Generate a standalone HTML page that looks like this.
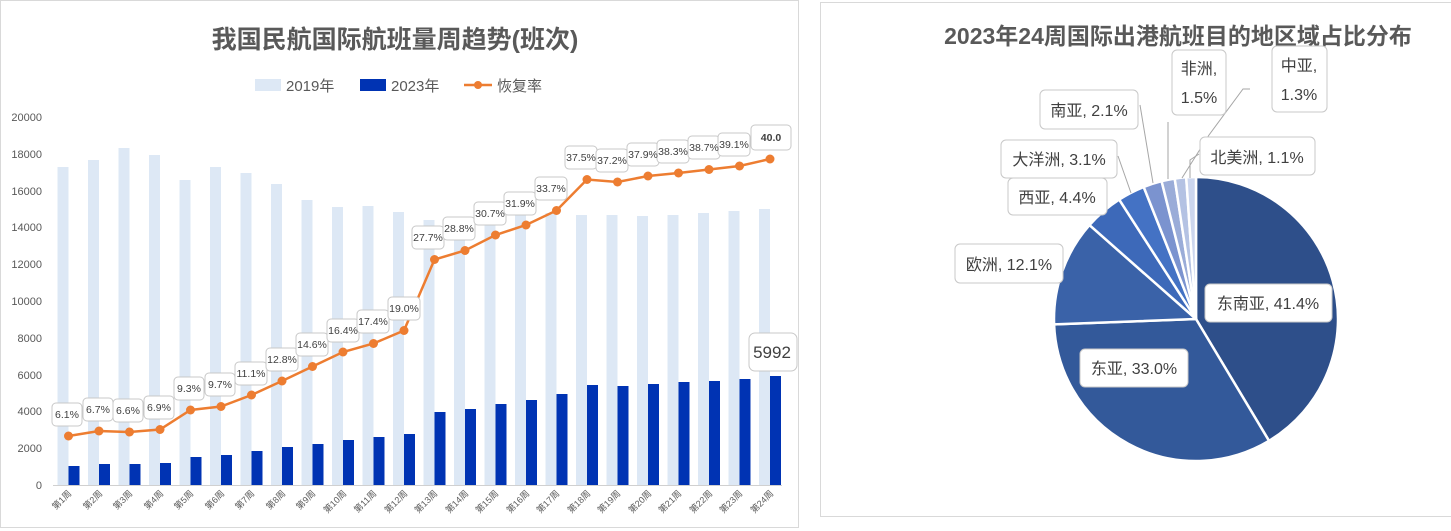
<!DOCTYPE html>
<html><head><meta charset="utf-8"><style>
body{margin:0;background:#fff;}
svg{display:block;font-family:"Liberation Sans","Noto Sans CJK SC",sans-serif;}
</style></head><body>
<svg width="1451" height="531" viewBox="0 0 1451 531" xmlns="http://www.w3.org/2000/svg">
<rect x="0.5" y="0.5" width="798" height="527" fill="#fff" stroke="#d9d9d9"/>
<rect x="820.5" y="2.5" width="640" height="514" fill="#fff" stroke="#d9d9d9"/>
<text x="395" y="48" text-anchor="middle" font-size="25" font-weight="bold" fill="#595959">我国民航国际航班量周趋势(班次)</text>
<!-- legend -->
<rect x="255" y="79" width="26" height="12" fill="#dde8f5"/>
<text x="286" y="91" font-size="15" fill="#595959">2019年</text>
<rect x="360" y="79" width="26" height="12" fill="#0033b3"/>
<text x="391" y="91" font-size="15" fill="#595959">2023年</text>
<line x1="464" y1="85" x2="492" y2="85" stroke="#ed7d31" stroke-width="2.5"/>
<circle cx="478" cy="85" r="4" fill="#ed7d31"/>
<text x="497" y="91" font-size="15" fill="#595959">恢复率</text>
<!-- y axis labels -->
<g font-size="11" fill="#595959" text-anchor="end">
<text x="42" y="489">0</text><text x="42" y="452">2000</text><text x="42" y="415">4000</text><text x="42" y="379">6000</text><text x="42" y="342">8000</text><text x="42" y="305">10000</text><text x="42" y="268">12000</text><text x="42" y="231">14000</text><text x="42" y="195">16000</text><text x="42" y="158">18000</text><text x="42" y="121">20000</text>
</g>
<!-- 2019 bars -->
<g fill="#dde8f5">
<rect x="57.5" y="167" width="11" height="318"/><rect x="88" y="160" width="11" height="325"/><rect x="118.5" y="148" width="11" height="337"/><rect x="149" y="155" width="11" height="330"/><rect x="179.5" y="180" width="11" height="305"/><rect x="210" y="167" width="11" height="318"/><rect x="240.5" y="173" width="11" height="312"/><rect x="271" y="184" width="11" height="301"/><rect x="301.5" y="200" width="11" height="285"/><rect x="332" y="207" width="11" height="278"/><rect x="362.5" y="206" width="11" height="279"/><rect x="393" y="212" width="11" height="273"/><rect x="423.5" y="220" width="11" height="265"/><rect x="454" y="219" width="11" height="266"/><rect x="484.5" y="215" width="11" height="270"/><rect x="515" y="215" width="11" height="270"/><rect x="545.5" y="213" width="11" height="272"/><rect x="576" y="215" width="11" height="270"/><rect x="606.5" y="215" width="11" height="270"/><rect x="637" y="216" width="11" height="269"/><rect x="667.5" y="215" width="11" height="270"/><rect x="698" y="213" width="11" height="272"/><rect x="728.5" y="211" width="11" height="274"/><rect x="759" y="209" width="11" height="276"/>
</g>
<!-- 2023 bars -->
<g fill="#0033b3">
<rect x="68.5" y="466" width="11" height="19"/><rect x="99" y="464" width="11" height="21"/><rect x="129.5" y="464" width="11" height="21"/><rect x="160" y="463" width="11" height="22"/><rect x="190.5" y="457" width="11" height="28"/><rect x="221" y="455" width="11" height="30"/><rect x="251.5" y="451" width="11" height="34"/><rect x="282" y="447" width="11" height="38"/><rect x="312.5" y="444" width="11" height="41"/><rect x="343" y="440" width="11" height="45"/><rect x="373.5" y="437" width="11" height="48"/><rect x="404" y="434" width="11" height="51"/><rect x="434.5" y="412" width="11" height="73"/><rect x="465" y="409" width="11" height="76"/><rect x="495.5" y="404" width="11" height="81"/><rect x="526" y="400" width="11" height="85"/><rect x="556.5" y="394" width="11" height="91"/><rect x="587" y="385" width="11" height="100"/><rect x="617.5" y="386" width="11" height="99"/><rect x="648" y="384" width="11" height="101"/><rect x="678.5" y="382" width="11" height="103"/><rect x="709" y="381" width="11" height="104"/><rect x="739.5" y="379" width="11" height="106"/><rect x="770" y="376" width="11" height="109"/>
</g>
<line x1="53" y1="485.5" x2="782" y2="485.5" stroke="#d0d0d0"/>
<!-- line -->
<polyline fill="none" stroke="#ed7d31" stroke-width="2.5" points="68.5,436 99,431 129.5,432 160,429.5 190.5,410 221,406.5 251.5,395 282,381 312.5,366.5 343,352 373.5,343.5 404,330.5 434.5,259.5 465,250.5 495.5,235 526,225 556.5,210.5 587,179.5 617.5,182 648,176 678.5,173 709,169.5 739.5,166 770,159"/>
<g fill="#ed7d31">
<circle cx="68.5" cy="436" r="4.5"/><circle cx="99" cy="431" r="4.5"/><circle cx="129.5" cy="432" r="4.5"/><circle cx="160" cy="429.5" r="4.5"/><circle cx="190.5" cy="410" r="4.5"/><circle cx="221" cy="406.5" r="4.5"/><circle cx="251.5" cy="395" r="4.5"/><circle cx="282" cy="381" r="4.5"/><circle cx="312.5" cy="366.5" r="4.5"/><circle cx="343" cy="352" r="4.5"/><circle cx="373.5" cy="343.5" r="4.5"/><circle cx="404" cy="330.5" r="4.5"/><circle cx="434.5" cy="259.5" r="4.5"/><circle cx="465" cy="250.5" r="4.5"/><circle cx="495.5" cy="235" r="4.5"/><circle cx="526" cy="225" r="4.5"/><circle cx="556.5" cy="210.5" r="4.5"/><circle cx="587" cy="179.5" r="4.5"/><circle cx="617.5" cy="182" r="4.5"/><circle cx="648" cy="176" r="4.5"/><circle cx="678.5" cy="173" r="4.5"/><circle cx="709" cy="169.5" r="4.5"/><circle cx="739.5" cy="166" r="4.5"/><circle cx="770" cy="159" r="4.5"/>
</g>
<!-- data labels -->
<g fill="#fff" stroke="#c8c8c8" stroke-width="1">
<rect x="52" y="403" width="30" height="23" rx="4"/><rect x="83" y="398" width="30" height="23" rx="4"/><rect x="113" y="399" width="30" height="23" rx="4"/><rect x="144" y="396" width="30" height="23" rx="4"/><rect x="174" y="377" width="30" height="23" rx="4"/><rect x="205" y="373" width="30" height="23" rx="4"/><rect x="235" y="362" width="32" height="23" rx="4"/><rect x="266" y="348" width="32" height="23" rx="4"/><rect x="296" y="333" width="32" height="23" rx="4"/><rect x="327" y="319" width="32" height="23" rx="4"/><rect x="357" y="310" width="32" height="23" rx="4"/><rect x="388" y="297" width="32" height="23" rx="4"/><rect x="412" y="226" width="32" height="23" rx="4"/><rect x="443" y="217" width="32" height="23" rx="4"/><rect x="474" y="202" width="32" height="23" rx="4"/><rect x="504" y="192" width="32" height="23" rx="4"/><rect x="535" y="177" width="32" height="23" rx="4"/><rect x="565" y="146" width="32" height="23" rx="4"/><rect x="596" y="149" width="32" height="23" rx="4"/><rect x="627" y="143" width="32" height="23" rx="4"/><rect x="657" y="140" width="32" height="23" rx="4"/><rect x="688" y="136" width="32" height="23" rx="4"/><rect x="718" y="133" width="32" height="23" rx="4"/><rect x="751" y="125" width="40" height="25" rx="4"/>
<rect x="749" y="333" width="48" height="38" rx="6"/>
</g>
<g font-size="10.5" fill="#404040" text-anchor="middle">
<text x="67" y="418">6.1%</text><text x="98" y="413">6.7%</text><text x="128" y="414">6.6%</text><text x="159" y="411">6.9%</text><text x="189" y="392">9.3%</text><text x="220" y="388">9.7%</text><text x="251" y="377">11.1%</text><text x="282" y="363">12.8%</text><text x="312" y="348">14.6%</text><text x="343" y="334">16.4%</text><text x="373" y="325">17.4%</text><text x="404" y="312">19.0%</text><text x="428" y="241">27.7%</text><text x="459" y="232">28.8%</text><text x="490" y="217">30.7%</text><text x="520" y="207">31.9%</text><text x="551" y="192">33.7%</text><text x="581" y="161">37.5%</text><text x="612" y="164">37.2%</text><text x="643" y="158">37.9%</text><text x="673" y="155">38.3%</text><text x="704" y="151">38.7%</text><text x="734" y="148">39.1%</text><text x="771" y="141" font-weight="bold">40.0</text>
<text x="772" y="358" font-size="17">5992</text>
</g>
<!-- x labels -->
<g font-size="9" fill="#595959" text-anchor="end">
<text transform="translate(72,494) rotate(-45)">第1周</text><text transform="translate(103,494) rotate(-45)">第2周</text><text transform="translate(133,494) rotate(-45)">第3周</text><text transform="translate(164,494) rotate(-45)">第4周</text><text transform="translate(194,494) rotate(-45)">第5周</text><text transform="translate(225,494) rotate(-45)">第6周</text><text transform="translate(255,494) rotate(-45)">第7周</text><text transform="translate(286,494) rotate(-45)">第8周</text><text transform="translate(316,494) rotate(-45)">第9周</text><text transform="translate(347,494) rotate(-45)">第10周</text><text transform="translate(377,494) rotate(-45)">第11周</text><text transform="translate(408,494) rotate(-45)">第12周</text><text transform="translate(438,494) rotate(-45)">第13周</text><text transform="translate(469,494) rotate(-45)">第14周</text><text transform="translate(499,494) rotate(-45)">第15周</text><text transform="translate(530,494) rotate(-45)">第16周</text><text transform="translate(560,494) rotate(-45)">第17周</text><text transform="translate(591,494) rotate(-45)">第18周</text><text transform="translate(621,494) rotate(-45)">第19周</text><text transform="translate(652,494) rotate(-45)">第20周</text><text transform="translate(682,494) rotate(-45)">第21周</text><text transform="translate(713,494) rotate(-45)">第22周</text><text transform="translate(743,494) rotate(-45)">第23周</text><text transform="translate(774,494) rotate(-45)">第24周</text>
</g>

<!-- right pie -->
<text x="1178" y="44" text-anchor="middle" font-size="23" font-weight="bold" fill="#595959">2023年24周国际出港航班目的地区域占比分布</text>
<g stroke="#fff" stroke-width="2.5" stroke-linejoin="round">
<path d="M1196,319 L1196,177 A142,142 0 0 1 1269,440.8 Z" fill="#2e4f8a"/>
<path d="M1196,319 L1269,440.8 A142,142 0 0 1 1054.1,324.4 Z" fill="#33599a"/>
<path d="M1196,319 L1054.1,324.4 A142,142 0 0 1 1089.5,225.1 Z" fill="#3a62a8"/>
<path d="M1196,319 L1089.5,225.1 A142,142 0 0 1 1119.2,199.6 Z" fill="#3d69b9"/>
<path d="M1196,319 L1119.2,199.6 A142,142 0 0 1 1143.7,187 Z" fill="#4472c4"/>
<path d="M1196,319 L1143.7,187 A142,142 0 0 1 1161.6,181.2 Z" fill="#7b93cf"/>
<path d="M1196,319 L1161.6,181.2 A142,142 0 0 1 1174.7,178.6 Z" fill="#9aacd8"/>
<path d="M1196,319 L1174.7,178.6 A142,142 0 0 1 1186.2,177.3 Z" fill="#b4c2e3"/>
<path d="M1196,319 L1186.2,177.3 A142,142 0 0 1 1196,177 Z" fill="#ccd6ee"/>
</g>
<g stroke="#a6a6a6" stroke-width="1" fill="none">
<polyline points="1118,156 1131,193"/>
<polyline points="1140,105 1153,183"/>
<polyline points="1168,122 1168,179"/>
<polyline points="1250,89 1243,89 1209,135 1182,178"/>
<polyline points="1199,154 1190,160 1190,178"/>
</g>
<g fill="#fff" stroke="#c8c8c8" stroke-width="1">
<rect x="1205" y="284" width="127" height="38" rx="5"/>
<rect x="1080" y="349" width="108" height="38" rx="5"/>
<rect x="955" y="244" width="108" height="39" rx="5"/>
<rect x="1008" y="178" width="99" height="37" rx="5"/>
<rect x="1001" y="140" width="116" height="38" rx="5"/>
<rect x="1040" y="90" width="98" height="39" rx="5"/>
<rect x="1172" y="50" width="54" height="65" rx="5"/>
<rect x="1272" y="46" width="55" height="66" rx="5"/>
<rect x="1200" y="137" width="115" height="38" rx="5"/>
</g>
<g font-size="16" fill="#404040" text-anchor="middle">
<text x="1268" y="309">东南亚, 41.4%</text>
<text x="1134" y="374">东亚, 33.0%</text>
<text x="1009" y="270">欧洲, 12.1%</text>
<text x="1057" y="203">西亚, 4.4%</text>
<text x="1059" y="165">大洋洲, 3.1%</text>
<text x="1089" y="116">南亚, 2.1%</text>
<text x="1199" y="74">非洲,</text><text x="1199" y="103">1.5%</text>
<text x="1299" y="71">中亚,</text><text x="1299" y="100">1.3%</text>
<text x="1257" y="163">北美洲, 1.1%</text>
</g>
</svg>
</body></html>
